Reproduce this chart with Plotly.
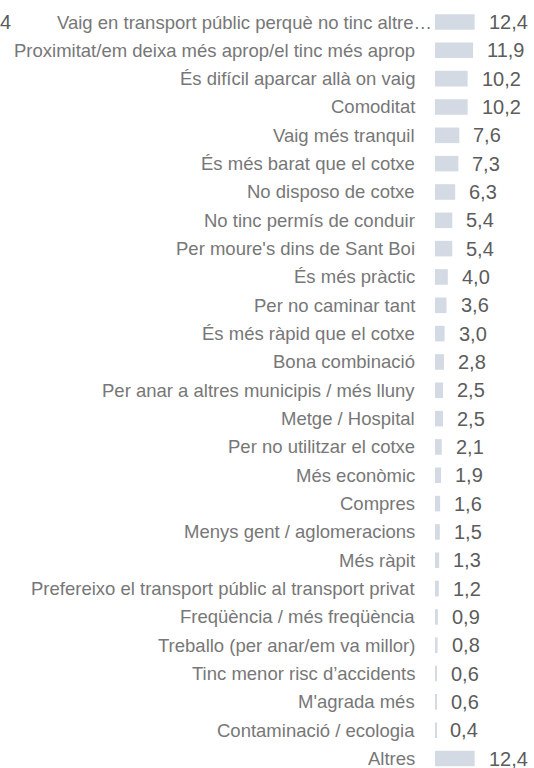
import plotly.graph_objects as go

categories = [
    "Vaig en transport públic perquè no tinc altre…",
    "Proximitat/em deixa més aprop/el tinc més aprop",
    "És difícil aparcar allà on vaig",
    "Comoditat",
    "Vaig més tranquil",
    "És més barat que el cotxe",
    "No disposo de cotxe",
    "No tinc permís de conduir",
    "Per moure's dins de Sant Boi",
    "És més pràctic",
    "Per no caminar tant",
    "És més ràpid que el cotxe",
    "Bona combinació",
    "Per anar a altres municipis / més lluny",
    "Metge / Hospital",
    "Per no utilitzar el cotxe",
    "Més econòmic",
    "Compres",
    "Menys gent / aglomeracions",
    "Més ràpit",
    "Prefereixo el transport públic al transport privat",
    "Freqüència / més freqüència",
    "Treballo (per anar/em va millor)",
    "Tinc menor risc d’accidents",
    "M'agrada més",
    "Contaminació / ecologia",
    "Altres",
]
values = [12.4, 11.9, 10.2, 10.2, 7.6, 7.3, 6.3, 5.4, 5.4, 4.0, 3.6, 3.0, 2.8, 2.5,
          2.5, 2.1, 1.9, 1.6, 1.5, 1.3, 1.2, 0.9, 0.8, 0.6, 0.6, 0.4, 12.4]
value_labels = [f"{v:.1f}".replace(".", ",") for v in values]

BAR = "#d3dae4"
LABEL = "#777777"
VALUE = "#5c5c5c"
FONT = "Liberation Sans, Arial, sans-serif"

idx = list(range(len(categories)))

fig = go.Figure(go.Bar(
    x=values, y=idx, orientation="h",
    marker=dict(color=BAR, line=dict(width=0)),
    width=0.55, hoverinfo="skip",
))

annotations = []
for i, (c, v, t) in enumerate(zip(categories, values, value_labels)):
    annotations.append(dict(
        x=0, y=i, xref="x", yref="y", text=c, showarrow=False,
        xanchor="right", yanchor="middle",
        xshift=(-1 if i == 0 else -18),
        font=dict(family=FONT, size=18.5, color=LABEL),
    ))
    annotations.append(dict(
        x=v, y=i, xref="x", yref="y", text=t, showarrow=False,
        xanchor="left", yanchor="middle", xshift=12,
        font=dict(family=FONT, size=20, color=VALUE),
    ))
annotations.append(dict(
    x=-435 / 99, y=0, xref="paper", yref="y", text="4", showarrow=False,
    xanchor="left", yanchor="middle", xshift=-2,
    font=dict(family=FONT, size=20, color=VALUE),
))

fig.update_layout(
    width=534, height=768,
    margin=dict(l=435, r=0, t=0, b=0),
    paper_bgcolor="white", plot_bgcolor="white",
    showlegend=False,
    xaxis=dict(range=[0, 30.94], visible=False, fixedrange=True),
    yaxis=dict(range=[26.333, -0.7765], visible=False, fixedrange=True),
    annotations=annotations,
)

fig.write_html(
    "out.html",
    config={"displayModeBar": False},
    post_script="document.body.style.margin='0px';document.body.style.overflow='hidden';",
)
